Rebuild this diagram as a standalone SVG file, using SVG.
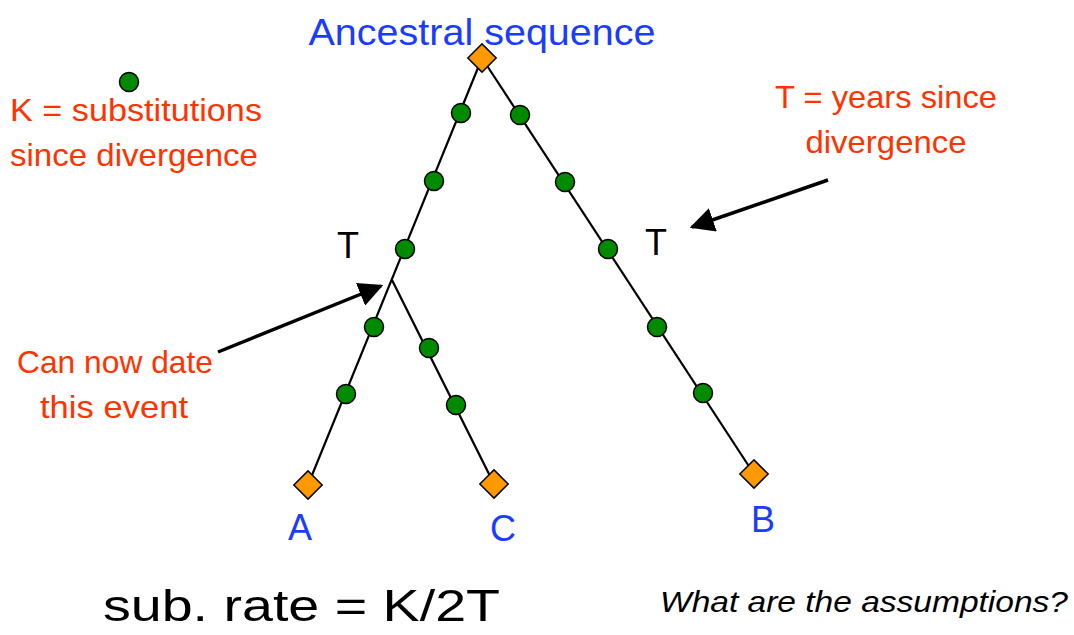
<svg xmlns="http://www.w3.org/2000/svg" width="1074" height="635" viewBox="0 0 1074 635">
<defs>
<style>
.t{font-family:"Liberation Sans","DejaVu Sans",sans-serif}
.blue{fill:#1a3cff}
.red{fill:#ff3300}
.blk{fill:#000}
.br{stroke:#000;stroke-width:2.2;fill:none}
.dot{fill:#008a00;stroke:#000;stroke-width:1.5}
.dia{fill:#ff9900;stroke:#000;stroke-width:1.5}
.arr{stroke:#000;stroke-width:3.5;fill:none}
</style>
<marker id="ah" viewBox="0 0 10 10" refX="9" refY="5" markerWidth="7" markerHeight="7" markerUnits="strokeWidth" orient="auto">
<path d="M0,0 L10,5 L0,10 z" fill="#000"/>
</marker>
</defs>
<rect width="1074" height="635" fill="#fff"/>
<g id="connectors">
<line class="br" x1="482" y1="58" x2="308" y2="485"/>
<line class="br" x1="482" y1="58" x2="754" y2="474"/>
<line class="br" x1="392" y1="280" x2="494" y2="484"/>
<line class="arr" x1="218" y1="352" x2="381" y2="286" marker-end="url(#ah)"/>
<line class="arr" x1="828" y1="180" x2="692" y2="227" marker-end="url(#ah)"/>
</g>
<g id="root">
<rect class="dia" x="472" y="48" width="20" height="20" transform="rotate(45 482 58)"/>
<text class="t blue" x="482" y="45" font-size="37" text-anchor="middle" textLength="347" lengthAdjust="spacingAndGlyphs">Ancestral sequence</text>
</g>
<g id="dots">
<circle class="dot" cx="461" cy="113" r="9.5"/>
<circle class="dot" cx="434" cy="181" r="9.5"/>
<circle class="dot" cx="405" cy="249" r="9.5"/>
<circle class="dot" cx="374" cy="327" r="9.5"/>
<circle class="dot" cx="346" cy="394" r="9.5"/>
<circle class="dot" cx="429" cy="348" r="9.5"/>
<circle class="dot" cx="456" cy="405" r="9.5"/>
<circle class="dot" cx="520" cy="115" r="9.5"/>
<circle class="dot" cx="565" cy="182" r="9.5"/>
<circle class="dot" cx="608" cy="249" r="9.5"/>
<circle class="dot" cx="657" cy="327" r="9.5"/>
<circle class="dot" cx="703" cy="393" r="9.5"/>
</g>
<g id="leafA">
<rect class="dia" x="298" y="475" width="20" height="20" transform="rotate(45 308 485)"/>
<text class="t blue" x="300" y="540" font-size="36" text-anchor="middle">A</text>
</g>
<g id="leafC">
<rect class="dia" x="484" y="474" width="20" height="20" transform="rotate(45 494 484)"/>
<text class="t blue" x="503" y="541" font-size="36" text-anchor="middle">C</text>
</g>
<g id="leafB">
<rect class="dia" x="744" y="464" width="20" height="20" transform="rotate(45 754 474)"/>
<text class="t blue" x="763" y="532" font-size="36" text-anchor="middle">B</text>
</g>
<g id="legend">
<circle class="dot" cx="129" cy="82" r="9.5"/>
<text class="t red" x="10" y="121" font-size="32" textLength="252" lengthAdjust="spacingAndGlyphs">K = substitutions</text>
<text class="t red" x="10" y="166" font-size="32" textLength="248" lengthAdjust="spacingAndGlyphs">since divergence</text>
</g>
<g id="labelT">
<text class="t red" x="886" y="108" font-size="32" text-anchor="middle" textLength="222" lengthAdjust="spacingAndGlyphs">T = years since</text>
<text class="t red" x="886" y="153" font-size="32" text-anchor="middle" textLength="161" lengthAdjust="spacingAndGlyphs">divergence</text>
</g>
<g id="Tmarks">
<text class="t blk" x="348" y="258" font-size="36" text-anchor="middle">T</text>
<text class="t blk" x="656" y="255" font-size="36" text-anchor="middle">T</text>
</g>
<g id="dateLabel">
<text class="t red" x="115" y="373" font-size="32" text-anchor="middle" textLength="196" lengthAdjust="spacingAndGlyphs">Can now date</text>
<text class="t red" x="114" y="418" font-size="32" text-anchor="middle" textLength="148" lengthAdjust="spacingAndGlyphs">this event</text>
</g>
<g id="formula">
<text class="t blk" x="103" y="621" font-size="45" textLength="397" lengthAdjust="spacingAndGlyphs">sub. rate = K/2T</text>
</g>
<g id="question">
<text class="t blk" x="660" y="612" font-size="30" font-style="italic" textLength="408" lengthAdjust="spacingAndGlyphs">What are the assumptions?</text>
</g>
</svg>
